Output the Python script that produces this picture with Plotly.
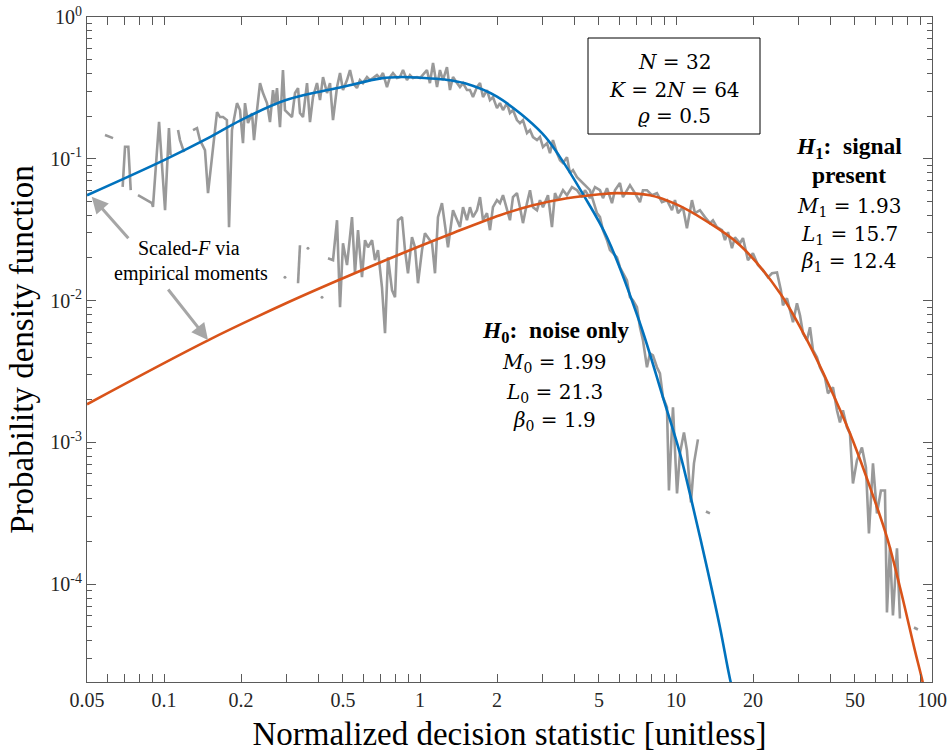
import plotly.graph_objects as go

# ---------------- data ----------------
# fitted scaled-F pdf, H0 (noise only)
h0_fit_x = [0.05, 0.1, 0.1485, 0.1998, 0.2995, 0.5, 0.7036, 0.85, 1.0, 1.25, 1.498, 1.998,
            2.995, 3.522, 4.331, 5.374, 7.23, 8.892, 10.36, 11.54, 13.21, 14.85, 16.24, 17.8]
h0_fit_y = [0.0554, 0.098, 0.140, 0.1875, 0.2596, 0.322, 0.3694, 0.3772, 0.3729, 0.362, 0.3404, 0.274,
            0.1518, 0.1028, 0.0563, 0.028, 0.00693, 0.00208, 0.000838, 0.000378, 0.000131,
            4.96e-5, 2.16e-5, 1.09e-5]

# fitted scaled-F pdf, H1 (signal present)
h1_fit_x = [0.05, 0.1485, 0.2995, 0.5, 0.835, 1.309, 2.052, 2.762, 3.75, 5.046, 5.879, 7.909,
            9.996, 12.97, 17.78, 25.5, 32.5, 39.9, 47.8, 57.3, 66.7, 75.0, 85.8, 91.3, 98.2]
h1_fit_y = [0.00186, 0.00525, 0.00958, 0.01439, 0.02126, 0.0294, 0.04005, 0.0471, 0.0528, 0.0563,
            0.0573, 0.0554, 0.0479, 0.0369, 0.0246, 0.01128, 0.00526, 0.00245, 0.00116, 0.000482,
            0.000214, 9.5e-5, 3.4e-5, 2.16e-5, 1.19e-5]

# empirical histogram, H0 (None = empty bin)
h0_emp_x = [0.0588, 0.0632, None,
            0.0689, 0.0704, 0.0725, 0.0741, None,
            0.0791, 0.0897, 0.0905, 0.0956, 0.1009, 0.1045, 0.106, None,
            0.1134, 0.1154, 0.1197, None,
            0.1297, 0.1345, 0.1381, 0.1445, 0.1485, 0.1553, 0.161, 0.1654, 0.170, 0.176,
            0.1794, 0.1842, 0.1927, 0.198, 0.2034, 0.2071, 0.2128, 0.2206, 0.2246, 0.2308,
            0.2371, 0.2435, 0.2524, 0.2593, 0.2664, 0.2713, 0.2762, 0.2837, 0.2914, 0.2967,
            0.3049, 0.3161, 0.3248, 0.3337, 0.3396, 0.349, 0.3618, 0.3716, 0.3818, 0.3958,
            0.4067, 0.4178, 0.4331, 0.4449, 0.4571, 0.4739, 0.4869, 0.5, 0.5185, 0.5326,
            0.547, 0.567, 0.5825, 0.5984, 0.6206, 0.6375, 0.6549, 0.6789, 0.6973, 0.7165,
            0.7427, 0.7631, 0.784, 0.8127, 0.835, 0.858, 0.889, 0.9135, 0.9384, 0.973,
            1.0, 1.027, 1.064, 1.093, 1.124, 1.165, 1.196, 1.229, 1.274, 1.309,
            1.345, 1.394, 1.432, 1.472, 1.525, 1.567, 1.61, 1.669, 1.715, 1.762,
            1.826, 1.876, 1.927, 1.998, 2.052, 2.109, 2.186, 2.245, 2.307, 2.391,
            2.457, 2.524, 2.617, 2.689, 2.762, 2.863, 2.941, 3.022, 3.132, 3.218,
            3.306, 3.427, 3.522, 3.618, 3.75, 3.853, 3.958, 4.104, 4.216, 4.331,
            4.489, 4.611, 4.738, 4.911, 5.046, 5.184, 5.374, 5.521, 5.672, 5.879,
            6.039, 6.205, 6.432, 6.608, 6.788, 7.036, 7.23, 7.427, 7.699, 7.909,
            8.125, 8.423, 8.653, 8.892, 9.218, 9.385, 9.73, 10.09, 10.36, 10.74,
            11.03, 11.44, 11.75, 12.18, None,
            13.09, 13.57]
h0_emp_y = [0.147, 0.140, None,
            0.0634, 0.1216, 0.1216, 0.0601, None,
            0.0554, 0.0487, 0.0458, 0.1824, 0.0434, 0.1647, 0.106, None,
            0.1594, 0.1355, 0.1115, None,
            0.1594, 0.1647, 0.1355, 0.1151, 0.0573, 0.1151, 0.2136, 0.197, 0.197, 0.1875,
            0.033, 0.1594, 0.247, 0.2207, 0.129, 0.247, 0.1786, 0.210, 0.1355, 0.2207,
            0.342, 0.291, 0.247, 0.1816, 0.3054, 0.2393, 0.3155, 0.1674, 0.4227, 0.2207,
            0.210, 0.197, 0.291, 0.3155, 0.210, 0.197, 0.342, 0.1816, 0.2725, 0.342,
            0.2596, 0.3772, 0.291, 0.342, 0.1875, 0.3206, 0.4026, 0.3054, 0.359, 0.4227,
            0.342, 0.3155, 0.359, 0.342, 0.3772, 0.359, 0.371, 0.3897, 0.371, 0.4026,
            0.3206, 0.3772, 0.4026, 0.371, 0.3772, 0.4227, 0.359, 0.3897, 0.371, 0.3772,
            0.371, 0.3897, 0.4227, 0.342, 0.4735, 0.3206, 0.4227, 0.359, 0.4437, 0.3054,
            0.3772, 0.342, 0.3206, 0.342, 0.3054, 0.3054, 0.2725, 0.3206, 0.342, 0.2725,
            0.3054, 0.2596, 0.2725, 0.2279, 0.247, 0.2207, 0.247, 0.210, 0.2207, 0.1875,
            0.1786, 0.1875, 0.1518, 0.1594, 0.1423, 0.1355, 0.1423, 0.121, 0.129, 0.1097,
            0.1355, 0.1097, 0.0979, 0.0933, 0.1028, 0.0793, 0.0832, 0.0743, 0.0708, 0.0674,
            0.0632, 0.0601, 0.0511, 0.0414, 0.0388, 0.0314, 0.0267, 0.0227, 0.0216, 0.0202,
            0.0172, 0.0156, 0.0139, 0.01057, 0.01006, 0.00898, 0.0065, 0.00525, 0.00339, 0.00425,
            0.00412, 0.00339, 0.00307, 0.00208, 0.00177, 0.000459, 0.00177, 0.000437, 0.000838, 0.001178,
            0.00088, 0.000378, 0.000712, 0.001051, None,
            0.000326, 0.000316]

# empirical histogram, H1 (None = empty bin)
h1_emp_x = [0.3337, 0.3396, None,
            0.4370, 0.4571, 0.4739, 0.4869, 0.5, 0.5185, 0.5423, 0.5571, 0.5724, 0.5933,
            0.6095, 0.6262, 0.6494, 0.6668, 0.685, 0.7101, 0.7297, 0.7497, 0.7772, 0.7984,
            0.8202, 0.8502, 0.8734, 0.8973, 0.9301, 0.9556, 0.9817, 1.018, 1.045, 1.074,
            1.114, 1.144, 1.175, 1.218, 1.251, 1.286, 1.345, 1.394, 1.432, 1.472,
            1.525, 1.567, 1.61, 1.669, 1.715, 1.762, 1.826, 1.876, 1.927, 1.998,
            2.052, 2.109, 2.186, 2.245, 2.307, 2.391, 2.457, 2.524, 2.617, 2.689,
            2.762, 2.863, 2.941, 3.022, 3.161, 3.276, 3.366, 3.458, 3.618, 3.75,
            3.922, 4.104, 4.292, 4.409, 4.611, 4.824, 5.046, 5.184, 5.374, 5.621,
            5.774, 6.039, 6.205, 6.432, 6.608, 6.911, 7.23, 7.427, 7.699, 8.054,
            8.423, 8.812, 9.218, 9.643, 9.906, 10.18, 10.64, 11.03, 11.54, 11.86,
            12.4, 12.97, 13.57, 13.94, 14.45, 15.12, 15.53, 15.96, 16.54, 16.99,
            17.78, 18.26, 19.1, 19.97, 20.9, 21.86, 22.87, 23.71, 24.8, 25.7,
            26.17, 27.13, 28.64, 29.68, 30.5, 31.33, 32.47, 33.37, 34.28, 35.53,
            36.5, 38.17, 39.22, 41.03, 42.53, 43.69, 44.88, 46.53, 47.8, 49.11,
            50.91, 53.25, 55.2, 56.72, 58.8, 60.95, 63.17, 65.5, 66.68, 68.5,
            70.38, 72.97, 74.96, None,
            85.04, 88.1]
h1_emp_y = [0.01327, 0.0246, None,
            0.0199, 0.0193, 0.0369, 0.00898, 0.0254, 0.0178, 0.0388, 0.0156, 0.0314, 0.01463,
            0.0267, 0.0238, 0.0267, 0.0193, 0.0227, 0.01243, 0.00589, 0.0202, 0.01184, 0.01057,
            0.0369, 0.0388, 0.0227, 0.0156, 0.028, 0.0238, 0.01327, 0.0227, 0.0299, 0.028,
            0.0254, 0.0156, 0.0388, 0.0487, 0.033, 0.0238, 0.0434, 0.0369, 0.033, 0.0456,
            0.0369, 0.0456, 0.0388, 0.0434, 0.0537, 0.0369, 0.0414, 0.0314, 0.0456, 0.0511,
            0.0487, 0.0554, 0.0434, 0.0369, 0.0537, 0.0573, 0.0456, 0.0352, 0.0487, 0.0601,
            0.0456, 0.0434, 0.0511, 0.0456, 0.0554, 0.033, 0.0573, 0.0511, 0.0601, 0.0554,
            0.0632, 0.0601, 0.0537, 0.0601, 0.0528, 0.0632, 0.0601, 0.0528, 0.0621, 0.0487,
            0.0601, 0.0674, 0.0537, 0.0601, 0.0652, 0.0573, 0.0495, 0.0601, 0.0601, 0.0554,
            0.0573, 0.0495, 0.0511, 0.0434, 0.0511, 0.0414, 0.0456, 0.0324, 0.0511, 0.0414,
            0.0434, 0.0388, 0.0352, 0.0369, 0.033, 0.0314, 0.0267, 0.0304, 0.0234, 0.028,
            0.0254, 0.0276, 0.0193, 0.0216, 0.0178, 0.0164, 0.0146, 0.0156, 0.0158, 0.0118,
            0.00928, 0.0104, 0.00704, 0.00958, 0.00789, 0.00589, 0.00526, 0.0065, 0.00447, 0.00399,
            0.00339, 0.00288, 0.00222, 0.00245, 0.001685, 0.001386, 0.001685, 0.001278, 0.00116, 0.000514,
            0.000748, 0.000923, 0.000667, 0.000228, 0.000712, 0.000316, 0.000459, 0.000459, 6.33e-5, 0.000182,
            6.02e-5, 0.000179, 5.74e-5, None,
            4.96e-5, 4.8e-5]

# isolated non-empty H1 bins
h1_dot_x = [0.2967, 0.3649, 0.414]
h1_dot_y = [0.01463, 0.02344, 0.01057]

# tick labels
x_tick_vals = [0.05, 0.06, 0.07, 0.08, 0.09, 0.1, 0.2, 0.3, 0.4, 0.5, 0.6, 0.7, 0.8, 0.9,
               1, 2, 3, 4, 5, 6, 7, 8, 9, 10, 20, 30, 40, 50, 60, 70, 80, 90, 100]
x_labelled = {0.05: "0.05", 0.1: "0.1", 0.2: "0.2", 0.5: "0.5", 1: "1", 2: "2", 5: "5",
              10: "10", 20: "20", 50: "50", 100: "100"}
y_tick_vals = [1e-4, 1e-3, 1e-2, 1e-1, 1]
y_tick_text = ["10<sup>-4</sup>", "10<sup>-3</sup>", "10<sup>-2</sup>", "10<sup>-1</sup>", "10<sup>0</sup>"]
y_minor_vals = [m * 10.0 ** e for e in range(-5, 0) for m in range(2, 10)]

GRAY = "#999999"
BLUE = "#0072BD"
ORANGE = "#D95319"
SERIF = "Liberation Serif"
MATH = "DejaVu Serif"

fig = go.Figure()
fig.add_trace(go.Scatter(x=h0_emp_x, y=h0_emp_y, mode="lines", line=dict(color=GRAY, width=2.6),
                         connectgaps=False, showlegend=False))
fig.add_trace(go.Scatter(x=h1_emp_x, y=h1_emp_y, mode="lines", line=dict(color=GRAY, width=2.6),
                         connectgaps=False, showlegend=False))
fig.add_trace(go.Scatter(x=h1_dot_x, y=h1_dot_y, mode="markers",
                         marker=dict(color=GRAY, size=3), showlegend=False))
fig.add_trace(go.Scatter(x=h0_fit_x, y=h0_fit_y, mode="lines",
                         line=dict(color=BLUE, width=2.6, shape="spline", smoothing=1.0), showlegend=False))
fig.add_trace(go.Scatter(x=h1_fit_x, y=h1_fit_y, mode="lines",
                         line=dict(color=ORANGE, width=2.6, shape="spline", smoothing=1.0), showlegend=False))

AX = "#5a5a5a"
fig.update_xaxes(type="log", range=[-1.30103, 2], tickmode="array", tickvals=x_tick_vals,
                 ticktext=[x_labelled.get(v, "") for v in x_tick_vals], automargin=False,
                 ticks="inside", ticklen=8, tickwidth=1, tickcolor=AX,
                 showline=True, linecolor=AX, linewidth=1.2, mirror="ticks", showgrid=False, zeroline=False,
                 tickfont=dict(family=SERIF, size=20, color="#262626"),
                 title=dict(text="Normalized decision statistic [unitless]",
                            font=dict(family=SERIF, size=33, color="black"), standoff=14))
fig.update_yaxes(type="log", range=[-4.689, 0], tickmode="array", tickvals=y_tick_vals, ticktext=y_tick_text,
                 automargin=False,
                 ticks="inside", ticklen=9, tickwidth=1, tickcolor=AX,
                 minor=dict(tickmode="array", tickvals=y_minor_vals, ticks="inside", ticklen=5,
                            tickcolor=AX, showgrid=False),
                 showline=True, linecolor=AX, linewidth=1.2, mirror="ticks", showgrid=False, zeroline=False,
                 tickfont=dict(family=SERIF, size=20, color="#262626"),
                 title=dict(text="Probability density function",
                            font=dict(family=SERIF, size=33, color="black"), standoff=6))

L, R, T, B = 87, 932, 17, 682
W, H = R - L, B - T
def px(xp):
    return (xp - L) / W
def py(yp):
    return (B - yp) / H

ann = []
def txt(text, xp, yp, fam, size):
    ann.append(dict(text=text, x=px(xp), y=py(yp), xref="paper", yref="paper", showarrow=False,
                    xanchor="center", yanchor="middle", font=dict(family=fam, size=size, color="black")))

# parameter box
txt("<i>N</i> = 32", 674, 62, MATH, 20)
txt("<i>K</i> = 2<i>N</i> = 64", 674, 90, MATH, 20)
txt("<i>ϱ</i> = 0.5", 674, 116, MATH, 20)
# H1 block
txt("<b><i>H</i><sub>1</sub>:  signal</b>", 849, 148, SERIF, 23.5)
txt("<b>present</b>", 849, 175, SERIF, 23.5)
txt("<i>M</i><sub>1</sub> = 1.93", 849, 207, MATH, 20)
txt("<i>L</i><sub>1</sub> = 15.7", 849, 235, MATH, 20)
txt("<i>β</i><sub>1</sub> = 12.4", 849, 262, MATH, 20)
# H0 block
txt("<b><i>H</i><sub>0</sub>:  noise only</b>", 555, 332, SERIF, 23.5)
txt("<i>M</i><sub>0</sub> = 1.99", 554, 363, MATH, 20)
txt("<i>L</i><sub>0</sub> = 21.3", 554, 393, MATH, 20)
txt("<i>β</i><sub>0</sub> = 1.9", 554, 421, MATH, 20)
# Scaled-F note
txt("Scaled-<i>F</i> via", 189, 248, SERIF, 20)
txt("empirical moments", 191, 273, SERIF, 20)

# arrows
for (tx, ty, ax, ay) in [(91.7, 196.7, 38, 43), (208, 340, -41, -52)]:
    ann.append(dict(text="", x=px(tx), y=py(ty), xref="paper", yref="paper", showarrow=True,
                    ax=ax, ay=ay, arrowhead=2, arrowsize=1.1, arrowwidth=3, arrowcolor="#a6a6a6",
                    standoff=0, startstandoff=0))

fig.update_layout(
    width=948, height=752,
    margin=dict(l=L, r=948 - R, t=T, b=752 - B, autoexpand=False),
    paper_bgcolor="white", plot_bgcolor="white",
    annotations=ann,
    shapes=[dict(type="rect", xref="paper", yref="paper", x0=px(588), x1=px(760), y0=py(134), y1=py(38),
                 line=dict(color="black", width=1), fillcolor="white", layer="above")],
    showlegend=False,
)
fig.write_html("out.html")
